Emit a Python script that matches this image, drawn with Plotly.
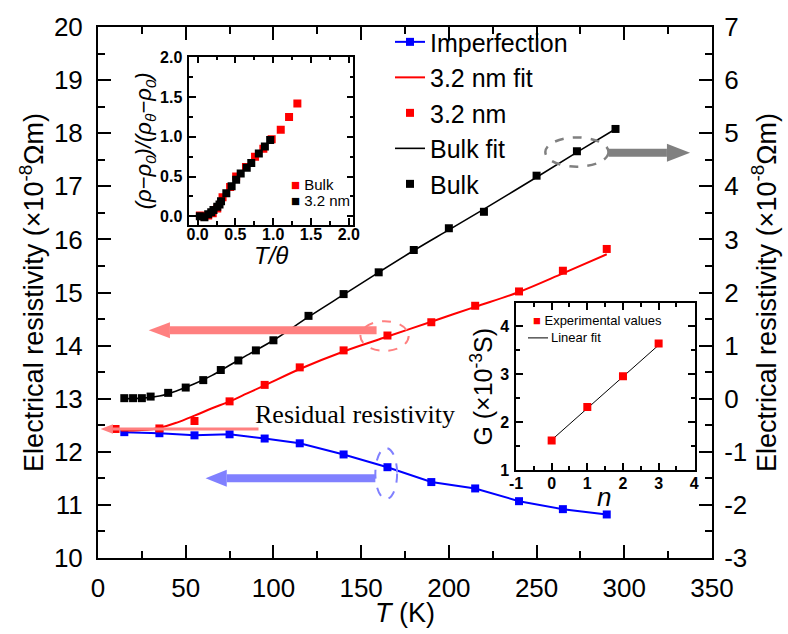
import plotly.graph_objects as go

# ---------------- data ----------------
T_imp = [15, 35, 55, 75, 95, 115, 140, 165, 190, 215, 240, 265, 290]
rho_imp = [12.37, 12.35, 12.31, 12.33, 12.25, 12.16, 11.95, 11.71, 11.43, 11.31, 11.07, 10.92, 10.82]

T_32 = [10, 35, 55, 75, 95, 115, 140, 165, 190, 215, 240, 265, 290]
rho_32 = [12.43, 12.44, 12.58, 12.95, 13.26, 13.59, 13.91, 14.19, 14.44, 14.75, 15.02, 15.41, 15.82]

T_32fit = [13, 25, 35, 45, 55, 65, 75, 85, 95, 115, 140, 165, 190, 215, 240, 265, 290]
rho_32fit = [12.40, 12.41, 12.45, 12.55, 12.68, 12.82, 12.95, 13.10, 13.25, 13.56, 13.89, 14.17,
             14.45, 14.73, 15.01, 15.36, 15.72]

# bulk values are read on the right-hand axis
T_bulk = [15, 20, 25, 30, 40, 50, 60, 70, 80, 90, 100, 120, 140, 160, 180, 200, 220, 250, 273, 295]
rho_bulk = [0.01, 0.01, 0.01, 0.04, 0.11, 0.21, 0.35, 0.54, 0.72, 0.91, 1.10, 1.56, 1.97, 2.38,
            2.80, 3.21, 3.52, 4.20, 4.66, 5.08]

T_bfit = [15, 25, 35, 45, 55, 65, 75, 85, 100, 120, 140, 160, 180, 200, 220, 250, 275, 295]
rho_bfit = [0.00, 0.01, 0.05, 0.15, 0.28, 0.44, 0.63, 0.82, 1.10, 1.54, 1.96, 2.38, 2.79, 3.18,
            3.57, 4.17, 4.68, 5.08]

# tick labels
left_ticks = [10, 11, 12, 13, 14, 15, 16, 17, 18, 19, 20]
right_ticks = [-3, -2, -1, 0, 1, 2, 3, 4, 5, 6, 7]
right_ticktext = ["-3", "-2", "-1", "0", "1", "2", "3", "4", "5", "6", "7"]

# inset 1 : normalised resistivity vs T/theta
in1_bulk_x = [0.03, 0.08, 0.14, 0.20, 0.26, 0.33, 0.43, 0.51, 0.64, 0.76, 0.87, 0.98, 1.10, 1.21, 1.32]
in1_bulk_y = [0.01, 0.00, 0.01, 0.04, 0.10, 0.24, 0.37, 0.50, 0.62, 0.75, 0.85, 0.97, 1.09, 1.25, 1.42]
in1_32_x = [0.03, 0.09, 0.14, 0.18, 0.21, 0.26, 0.29, 0.31, 0.38, 0.45, 0.51, 0.57, 0.65, 0.71, 0.81, 0.89, 0.96]
in1_32_y = [0.00, -0.01, 0.025, 0.05, 0.08, 0.12, 0.15, 0.19, 0.29, 0.38, 0.46, 0.54, 0.61, 0.67, 0.79, 0.88, 0.96]
in1_ticks = [0.0, 0.5, 1.0, 1.5, 2.0]
in1_ticktext = ["0.0", "0.5", "1.0", "1.5", "2.0"]

# inset 2 : conductance vs n
n_vals = [0, 1, 2, 3]
G_vals = [1.62, 2.32, 2.96, 3.64]
n_fit = [0, 3]
G_fit = [1.63, 3.61]
in2_xticks = [-1, 0, 1, 2, 3, 4]
in2_xticktext = ["-1", "0", "1", "2", "3", "4"]
in2_yticks = [1, 2, 3, 4]
in2_yticktext = ["1", "2", "3", "4"]

FONT = "Liberation Sans"
SERIF = "Liberation Serif"

# plot-area geometry (pixels) used for paper placements
L, TOP, W, H = 98, 20, 614, 538


def px(x):
    return (x - L) / W


def py(y):
    return 1 - (y - TOP) / H


def bold(labels):
    return [f"<b>{t}</b>" for t in labels]


fig = go.Figure()

fig.add_trace(go.Scatter(x=T_imp, y=rho_imp, mode="lines+markers", name="Imperfection",
                         line=dict(color="#0000ff", width=2),
                         marker=dict(symbol="square", size=8, color="#0000ff")))
fig.add_trace(go.Scatter(x=T_32fit, y=rho_32fit, mode="lines", name="3.2 nm fit",
                         line=dict(color="#ff0000", width=2, shape="spline")))
fig.add_trace(go.Scatter(x=T_32, y=rho_32, mode="markers", name="3.2 nm",
                         marker=dict(symbol="square", size=8, color="#ff0000")))
fig.add_trace(go.Scatter(x=T_bfit, y=rho_bfit, mode="lines", name="Bulk fit", yaxis="y2",
                         line=dict(color="#000000", width=1.6, shape="spline")))
fig.add_trace(go.Scatter(x=T_bulk, y=rho_bulk, mode="markers", name="Bulk", yaxis="y2",
                         marker=dict(symbol="square", size=8, color="#000000")))

# inset 1
fig.add_trace(go.Scatter(x=in1_bulk_x, y=in1_bulk_y, mode="markers", xaxis="x3", yaxis="y3",
                         showlegend=False, marker=dict(symbol="square", size=8, color="#ff0000")))
fig.add_trace(go.Scatter(x=in1_32_x, y=in1_32_y, mode="markers", xaxis="x3", yaxis="y3",
                         showlegend=False, marker=dict(symbol="square", size=8, color="#000000")))
# inset 2
fig.add_trace(go.Scatter(x=n_fit, y=G_fit, mode="lines", xaxis="x4", yaxis="y4",
                         showlegend=False, line=dict(color="#000000", width=1)))
fig.add_trace(go.Scatter(x=n_vals, y=G_vals, mode="markers", xaxis="x4", yaxis="y4",
                         showlegend=False, marker=dict(symbol="square", size=8, color="#ff0000")))

tickfont = dict(family=FONT, size=26, color="black")
titlefont = dict(family=FONT, size=27, color="black")
ytitle = "Electrical resistivity (×10<sup>-8</sup>Ωm)"

main_ax = dict(showline=True, linecolor="black", linewidth=2, ticks="inside", ticklen=13,
               tickwidth=2, tickcolor="black", showgrid=False, zeroline=False,
               tickfont=tickfont)

fig.update_layout(
    width=788, height=634,
    margin=dict(l=L, r=788 - L - W, t=TOP, b=634 - TOP - H),
    paper_bgcolor="white", plot_bgcolor="white",
    font=dict(family=FONT, color="black"),
    xaxis=dict(range=[0, 350], dtick=50, mirror="ticks", ticklabelstandoff=6,
               minor=dict(ticks="inside", ticklen=7, tickwidth=2, dtick=25, tickcolor="black"),
               **main_ax),
    yaxis=dict(range=[10, 20], tickvals=left_ticks, ticklabelstandoff=8,
               minor=dict(ticks="inside", ticklen=7, tickwidth=2, dtick=0.5, tickcolor="black"),
               title=dict(text=ytitle, font=titlefont, standoff=2), **main_ax),
    yaxis2=dict(range=[-3, 7], tickvals=right_ticks, ticktext=right_ticktext, ticklabelstandoff=5,
                overlaying="y", side="right", anchor="x",
                minor=dict(ticks="inside", ticklen=7, tickwidth=2, dtick=0.5, tickcolor="black"),
                title=dict(text=ytitle, font=titlefont, standoff=1), **main_ax),
    legend=dict(x=px(390), y=py(12), xanchor="left", yanchor="top",
                font=dict(family=FONT, size=25, color="black"), bgcolor="rgba(0,0,0,0)",
                tracegroupgap=0, itemwidth=30),
    showlegend=True,
)

inset_ax = dict(showline=True, linecolor="black", linewidth=1.5, mirror="ticks", ticks="inside",
                ticklen=7, tickwidth=1.5, tickcolor="black", showgrid=False, zeroline=False,
                tickfont=dict(family=FONT, size=16, color="black"))

fig.update_layout(
    xaxis3=dict(domain=[px(189.3), px(353.3)], anchor="y3", range=[-0.11, 2.06],
                tickvals=in1_ticks, ticktext=bold(in1_ticktext), ticklabelstandoff=-6,
                minor=dict(ticks="inside", ticklen=4, dtick=0.25, tickcolor="black"),
                **inset_ax),
    yaxis3=dict(domain=[py(220.7), py(50)], anchor="x3", range=[-0.11, 2.01],
                tickvals=in1_ticks, ticktext=bold(in1_ticktext), ticklabelstandoff=2,
                minor=dict(ticks="inside", ticklen=4, dtick=0.25, tickcolor="black"),
                title=dict(text="<i>(ρ−ρ<sub>0</sub>)/(ρ<sub>θ</sub>−ρ<sub>0</sub>)</i>",
                           font=dict(family=FONT, size=22), standoff=2),
                **inset_ax),
    xaxis4=dict(domain=[px(516), px(695)], anchor="y4", range=[-1, 4.02],
                tickvals=in2_xticks, ticktext=bold(in2_xticktext), ticklabelstandoff=-2,
                minor=dict(ticks="inside", ticklen=4, dtick=0.5, tickcolor="black"),
                **inset_ax),
    yaxis4=dict(domain=[py(469), py(300)], anchor="x4", range=[1, 4.48],
                tickvals=in2_yticks, ticktext=bold(in2_yticktext), ticklabelstandoff=2,
                minor=dict(ticks="inside", ticklen=4, dtick=0.5, tickcolor="black"),
                title=dict(text="G (×10<sup>-3</sup>S)", font=dict(family=FONT, size=25), standoff=0),
                **inset_ax),
)

# ---------------- decorations: arrows and dashed ellipses ----------------
PINK = "#ff8080"
LBLUE = "#8080ff"
GRAY = "#808080"

shapes = []


def arrow(x_tail, x_base, x_tip, y, half, width, color, yref="y"):
    shapes.append(dict(type="line", xref="x", yref=yref, x0=x_tail, x1=x_base, y0=y, y1=y,
                       line=dict(color=color, width=width)))
    shapes.append(dict(type="path", xref="x", yref=yref,
                       path=f"M {x_tip},{y} L {x_base},{y + half} L {x_base},{y - half} Z",
                       fillcolor=color, line=dict(color=color, width=0)))


arrow(158.8, 41.0, 28.9, 14.29, 0.15, 8, PINK)
arrow(158.1, 73.4, 61.3, 11.50, 0.16, 8, LBLUE)
arrow(91.5, 8.5, 1.5, 12.43, 0.09, 3, PINK)
arrow(291.0, 324.3, 337.5, 4.63, 0.17, 8, GRAY, yref="y2")

shapes.append(dict(type="circle", xref="x", yref="y2", x0=255, x1=291, y0=4.37, y1=4.92,
                   line=dict(color=GRAY, width=2.5, dash="dash")))
shapes.append(dict(type="circle", xref="x", yref="y", x0=149.6, x1=177.1, y0=13.90, y1=14.46,
                   line=dict(color=PINK, width=2, dash="dash")))
shapes.append(dict(type="circle", xref="x", yref="y", x0=158.1, x1=170.5, y0=11.11, y1=12.07,
                   line=dict(color=LBLUE, width=2, dash="dash")))
# inset 2 legend line sample
shapes.append(dict(type="line", xref="paper", yref="paper", x0=px(528), x1=px(548),
                   y0=py(335), y1=py(335), line=dict(color="black", width=1)))
fig.update_layout(shapes=shapes)

annotations = [
    dict(text="<i>T</i> (K)", xref="paper", yref="paper", x=px(405), y=py(614),
         xanchor="center", yanchor="middle", showarrow=False, font=titlefont),
    dict(text="<i>T/θ</i>", xref="paper", yref="paper", x=px(271), y=py(252),
         xanchor="center", yanchor="middle", showarrow=False,
         font=dict(family=FONT, size=24, color="black")),
    dict(text="<i>n</i>", xref="paper", yref="paper", x=px(604), y=py(496),
         xanchor="center", yanchor="middle", showarrow=False,
         font=dict(family=FONT, size=26, color="black")),
    dict(text="Residual resistivity", xref="x", yref="y", x=88.6, y=12.70, xanchor="left",
         yanchor="middle", showarrow=False, font=dict(family=SERIF, size=26, color="black")),
    dict(text="<span style='color:#ff0000'>■</span> Bulk", xref="paper", yref="paper",
         x=px(289), y=py(180), xanchor="left", yanchor="middle", showarrow=False,
         font=dict(family=FONT, size=15, color="black")),
    dict(text="■ 3.2 nm", xref="paper", yref="paper",
         x=px(289), y=py(196), xanchor="left", yanchor="middle", showarrow=False,
         font=dict(family=FONT, size=15, color="black")),
    dict(text="<span style='color:#ff0000'>■</span> Experimental values", xref="paper", yref="paper",
         x=px(531), y=py(317), xanchor="left", yanchor="middle", showarrow=False,
         font=dict(family=FONT, size=13, color="black")),
    dict(text="Linear fit", xref="paper", yref="paper",
         x=px(549), y=py(335), xanchor="left", yanchor="middle", showarrow=False,
         font=dict(family=FONT, size=13, color="black")),
]
fig.update_layout(annotations=annotations)

fig.write_html("out.html")
